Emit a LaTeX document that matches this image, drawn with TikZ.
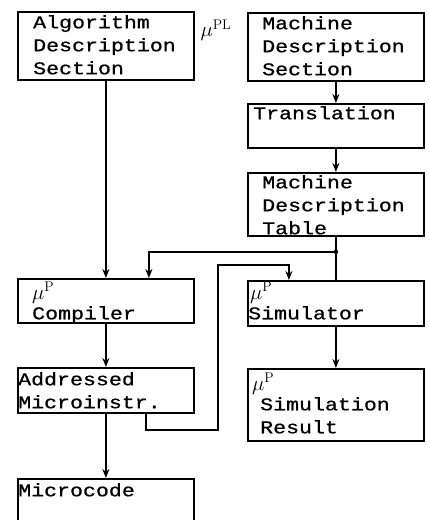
\documentclass[tikz,border=0pt]{standalone}
\usepackage{fontspec}
\usepackage{tikz}
\usetikzlibrary{arrows.meta}
\newfontfamily\typer[FakeStretch=1.2, FakeBold=0.8]{Liberation Mono}
\newcommand{\muP}[1]{{\fontsize{20}{20}\selectfont$\mu^{\mathrm{#1}}$}}

\tikzset{
    block/.style={draw, line width=1.8pt, anchor=north west, inner sep=0pt, minimum width=176pt},
    txt/.style={anchor=north west, align=left, inner sep=0pt, font=\fontsize{18}{23}\selectfont\typer},
    arr/.style={line width=1.6pt, -{Stealth[length=9pt,width=7pt]}},
    wire/.style={line width=1.6pt}
}

\begin{document}
\begin{tikzpicture}[x=1pt, y=-1pt]
            \useasboundingbox (0,0) rectangle (430,520);
            \clip (0,0) rectangle (430,520);
            \node[block, minimum height=68pt, label={[txt, xshift=16pt, yshift=-4pt]north west:{Algorithm\\Description\\Section}}] (alg) at (17,11) {};
            \node[block, minimum height=68pt, label={[txt, xshift=15pt, yshift=-4pt]north west:{Machine\\Description\\Section}}] (mds) at (247,12) {};
            \node[block, minimum height=44pt, label={[txt, xshift=6pt, yshift=-3pt]north west:{Translation}}] (trans) at (247,103) {};
            \node[block, minimum height=63pt, label={[txt, xshift=15pt, yshift=-3pt]north west:{Machine\\Description\\Table}}] (tab) at (247,172) {};
            \node[block, minimum height=44pt, label={[txt, xshift=15pt, yshift=-4pt]north west:{\muP{P}\\[-3pt]Compiler}}] (comp) at (17,278) {};
            \node[block, minimum height=45pt, label={[txt, xshift=1pt, yshift=-2pt]north west:{\hspace*{2pt}\muP{P}\\[-3pt]Simulator}}] (sim) at (247,280) {};
            \node[block, minimum height=72pt, label={[txt, xshift=13pt, yshift=-5pt]north west:{\hspace*{-8pt}\muP{P}\\[-3pt]Simulation\\Result}}] (res) at (247,368) {};
            \node[block, minimum height=45pt, label={[txt, xshift=1pt, yshift=-5pt]north west:{Addressed\\Microinstr.}}] (addr) at (17,367) {};
            \node[block, minimum height=60pt, label={[txt, xshift=1pt, yshift=-5pt]north west:{Microcode}}] (mcode) at (17,478) {};
            \node[inner sep=0pt] (mupl) at (216,30) {\muP{PL}};
            \foreach \a/\b in {alg/comp, mds/trans, trans/tab, comp/addr, addr/mcode, sim/res} {
                \draw[arr] (\a.south) -- (\b.north);
            }
            \coordinate (j) at ([yshift=-15pt]tab.south);
            \draw[wire] (tab.south) -- (sim.north);
            \fill (j) circle (2.2pt);
            \draw[arr] (j) -| ([xshift=43pt]comp.north);
            \draw[arr] ([xshift=40pt]addr.south) -- ++(0,16) -| ++(72,-165) -| ([xshift=-47pt]sim.north);
\end{tikzpicture}
\end{document}
